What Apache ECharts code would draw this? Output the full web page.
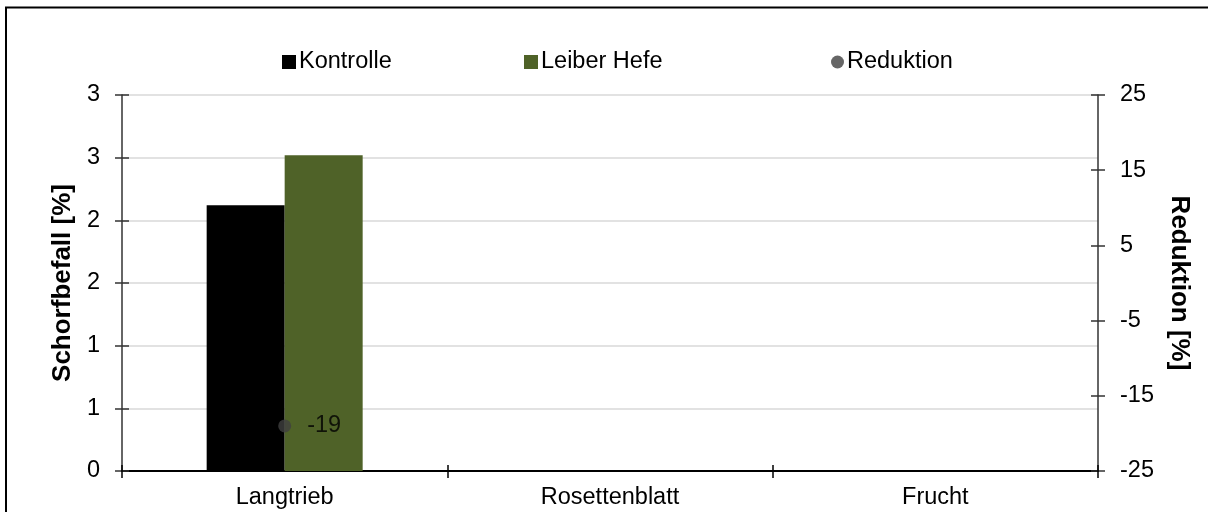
<!DOCTYPE html>
<html>
<head>
<meta charset="utf-8">
<script src="https://cdn.jsdelivr.net/npm/echarts@6/dist/echarts.min.js"></script>
<style>
  html, body { margin: 0; padding: 0; background: #fff; }
  #chart { width: 1208px; height: 512px; }
</style>
</head>
<body>
<div id="chart"></div>
<script>
// Schorfbefall je Organ: Kontrolle vs. Leiber Hefe, mit Reduktion in %
const categories = ['Langtrieb', 'Rosettenblatt', 'Frucht'];
const kontrolle = [2.12, null, null];
const leiberHefe = [2.52, null, null];
const reduktion = [-19, null, null];

const leftAxisMin = 0, leftAxisMax = 3, leftAxisStep = 0.5;
const rightAxisMin = -25, rightAxisMax = 25, rightAxisStep = 10;

const FONT = "'Liberation Sans', Arial, sans-serif";
const TXT = { fontFamily: FONT, fontSize: 23.5, color: '#000' };

const chart = echarts.init(document.getElementById('chart'), null, { renderer: 'canvas' });

// Excel-style "cross" ticks: a second, label-less axis supplies the inner half of each tick
function yPair(side, min, max, step, name, nameRotate, nameGap, lineColor, grid) {
  const fmt = side === 'left' ? (v) => String(Math.round(v)) : (v) => String(v);
  return [
    {
      type: 'value', position: side, min, max, interval: step,
      name, nameLocation: 'middle', nameRotate, nameGap,
      nameTextStyle: { fontFamily: FONT, fontSize: 26, fontWeight: 'bold', color: '#000' },
      axisLine: { show: true, lineStyle: { color: lineColor, width: 1.5 } },
      axisTick: { show: true, inside: false, length: 7, lineStyle: { color: lineColor, width: 1.5 } },
      axisLabel: Object.assign({ margin: 22, formatter: fmt }, TXT),
      splitLine: { show: grid, lineStyle: { color: '#d9d9d9', width: 1.5 } }
    },
    {
      type: 'value', position: side, min, max, interval: step,
      axisLine: { show: false },
      axisTick: { show: true, inside: true, length: 7, lineStyle: { color: lineColor, width: 1.5 } },
      axisLabel: { show: false },
      splitLine: { show: false }
    }
  ];
}

const yAxes = [
  ...yPair('left', leftAxisMin, leftAxisMax, leftAxisStep, 'Schorfbefall [%]', 90, 42, '#333333', true),
  ...yPair('right', rightAxisMin, rightAxisMax, rightAxisStep, 'Reduktion [%]', -90, 68, '#333333', false)
];

const xAxes = [
  {
    type: 'category', position: 'bottom', data: categories,
    axisLine: { show: true, onZero: false, lineStyle: { color: '#000', width: 2 } },
    axisTick: { show: true, inside: false, length: 7, lineStyle: { color: '#000', width: 1.5 } },
    axisLabel: Object.assign({ margin: 15 }, TXT)
  },
  {
    type: 'category', position: 'bottom', data: categories,
    axisLine: { show: false, onZero: false },
    axisTick: { show: true, inside: true, length: 6, lineStyle: { color: '#000', width: 1.5 } },
    axisLabel: { show: false }
  }
];

function legendAt(left, name, icon, size) {
  return {
    left, top: 45, orient: 'horizontal', data: [{ name, icon }],
    itemWidth: size, itemHeight: size, itemGap: 0,
    textStyle: Object.assign({ padding: [0, 0, 0, -2] }, TXT),
    selectedMode: false
  };
}

chart.setOption({
  animation: false,
  backgroundColor: '#fff',
  textStyle: { fontFamily: FONT },
  grid: { left: 122, right: 110, top: 95, bottom: 41, containLabel: false },
  legend: [
    legendAt(277, 'Kontrolle', 'rect', 14),
    legendAt(519, 'Leiber Hefe', 'rect', 14),
    legendAt(826, 'Reduktion', 'circle', 13)
  ],
  xAxis: xAxes,
  yAxis: yAxes,
  graphic: [
    {
      type: 'rect', silent: true, z: 100,
      shape: { x: 6, y: 7.5, width: 1230, height: 540 },
      style: { fill: 'none', stroke: '#000', lineWidth: 2 }
    }
  ],
  series: [
    {
      name: 'Kontrolle', type: 'bar', xAxisIndex: 0, yAxisIndex: 0,
      data: kontrolle, barWidth: 78, barGap: '0%',
      itemStyle: { color: '#000000' }
    },
    {
      name: 'Leiber Hefe', type: 'bar', xAxisIndex: 0, yAxisIndex: 0,
      data: leiberHefe, barWidth: 78, barGap: '0%',
      itemStyle: { color: '#4f6228' }
    },
    {
      name: 'Reduktion', type: 'scatter', xAxisIndex: 0, yAxisIndex: 2,
      data: reduktion, symbol: 'circle', symbolSize: 13, z: 5,
      itemStyle: { color: '#404040' },
      label: {
        show: true, position: 'right', distance: 16,
        fontFamily: FONT, fontSize: 23.5, color: '#000',
        formatter: (p) => String(p.value)
      }
    }
  ]
});
</script>
</body>
</html>
